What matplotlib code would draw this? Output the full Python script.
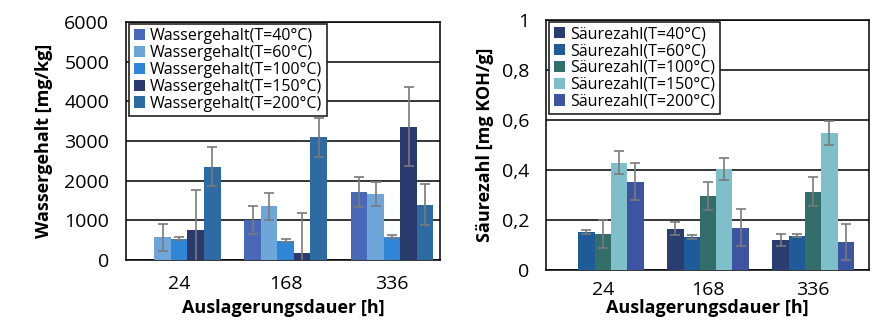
import matplotlib
matplotlib.use('Agg')
import matplotlib.pyplot as plt
import numpy as np

# data
durations = ['24', '168', '336']
temps = ['40', '60', '100', '150', '200']

# Wassergehalt [mg/kg], one list per temperature (nan = no bar)
water = [
  [np.nan, 1010, 1715],   # 40
  [570, 1360, 1665],      # 60
  [540, 490, 590],        # 100
  [755, 185, 3360],       # 150
  [2355, 3090, 1395],     # 200
]
water_err = [
  [np.nan, 360, 370],
  [330, 340, 310],
  [40, 30, 30],
  [1000, 1000, 990],
  [500, 500, 510],
]

# Saeurezahl [mg KOH/g]
acid = [
  [np.nan, 0.165, 0.12],
  [0.153, 0.131, 0.137],
  [0.143, 0.296, 0.313],
  [0.429, 0.403, 0.547],
  [0.353, 0.169, 0.111],
]
acid_err = [
  [np.nan, 0.025, 0.023],
  [0.008, 0.007, 0.006],
  [0.055, 0.055, 0.057],
  [0.045, 0.044, 0.047],
  [0.073, 0.075, 0.073],
]

water_colors = ['#4a68b8', '#6ea6da', '#2f86d6', '#2a3a6c', '#2d6ba2']
acid_colors = ['#2b3d70', '#1f5b99', '#346e6b', '#7fbfca', '#3d55a0']

plt.rcParams['font.family'] = ['Open Sans', 'DejaVu Sans']

fig = plt.figure(figsize=(8.75, 3.28), dpi=100)
ax1 = fig.add_axes([0.144, 0.207, 0.359, 0.726])
ax2 = fig.add_axes([0.624, 0.177, 0.369, 0.762])

bw = 0.155
x = np.arange(len(durations))


def draw(ax, vals, errs, colors, name, xpad):
  for i, t in enumerate(temps):
    pos = x + (i - 2) * bw
    v = np.array(vals[i], dtype=float)
    e = np.array(errs[i], dtype=float)
    ax.bar(pos, np.nan_to_num(v), bw, color=colors[i], label=f'{name}(T={t}°C)',
           zorder=3)
    ax.errorbar(pos, v, yerr=e, fmt='none', ecolor='#7a7a7a', elinewidth=1.2,
                capsize=3.5, capthick=1.2, zorder=4)
  ax.set_xticks(x)
  ax.set_xticklabels(durations)
  ax.yaxis.grid(True, color='black', linewidth=1.1, zorder=0)
  ax.set_axisbelow(True)
  for s in ax.spines.values():
    s.set_color('black')
    s.set_linewidth(1.1)
  ax.tick_params(length=0, labelsize=14)
  ax.tick_params(axis='y', pad=12)
  ax.tick_params(axis='x', pad=xpad)
  leg = ax.legend(loc='upper left', bbox_to_anchor=(0.005, 1.0), fontsize=11.5,
                  frameon=True, fancybox=False, borderaxespad=0.1,
                  handlelength=0.7, handleheight=0.7, handletextpad=0.3,
                  labelspacing=0.05, borderpad=0.3)
  leg.get_frame().set_edgecolor('#222222')
  leg.get_frame().set_linewidth(1.2)
  leg.get_frame().set_alpha(1)
  leg.set_zorder(10)


draw(ax1, water, water_err, water_colors, 'Wassergehalt', 11)
ax1.set_xlim(-0.5, 2.45)
ax1.set_ylim(0, 6000)
ax1.set_yticks(np.arange(0, 6001, 1000))
ax1.set_ylabel('Wassergehalt [mg/kg]', fontsize=13, fontweight='bold', labelpad=8)
ax1.set_xlabel('Auslagerungsdauer [h]', fontsize=13, fontweight='bold', labelpad=4)

draw(ax2, acid, acid_err, acid_colors, 'Säurezahl', 8)
ax2.set_xlim(-0.54, 2.53)
ax2.set_ylim(0, 1)
yt = np.arange(0, 1.01, 0.2)
ax2.set_yticks(yt)
ax2.set_yticklabels(['0', '0,2', '0,4', '0,6', '0,8', '1'])
ax2.set_ylabel('Säurezahl [mg KOH/g]', fontsize=13, fontweight='bold', labelpad=6)
ax2.set_xlabel('Auslagerungsdauer [h]', fontsize=13, fontweight='bold', labelpad=0)

plt.savefig('out.png', dpi=100)
